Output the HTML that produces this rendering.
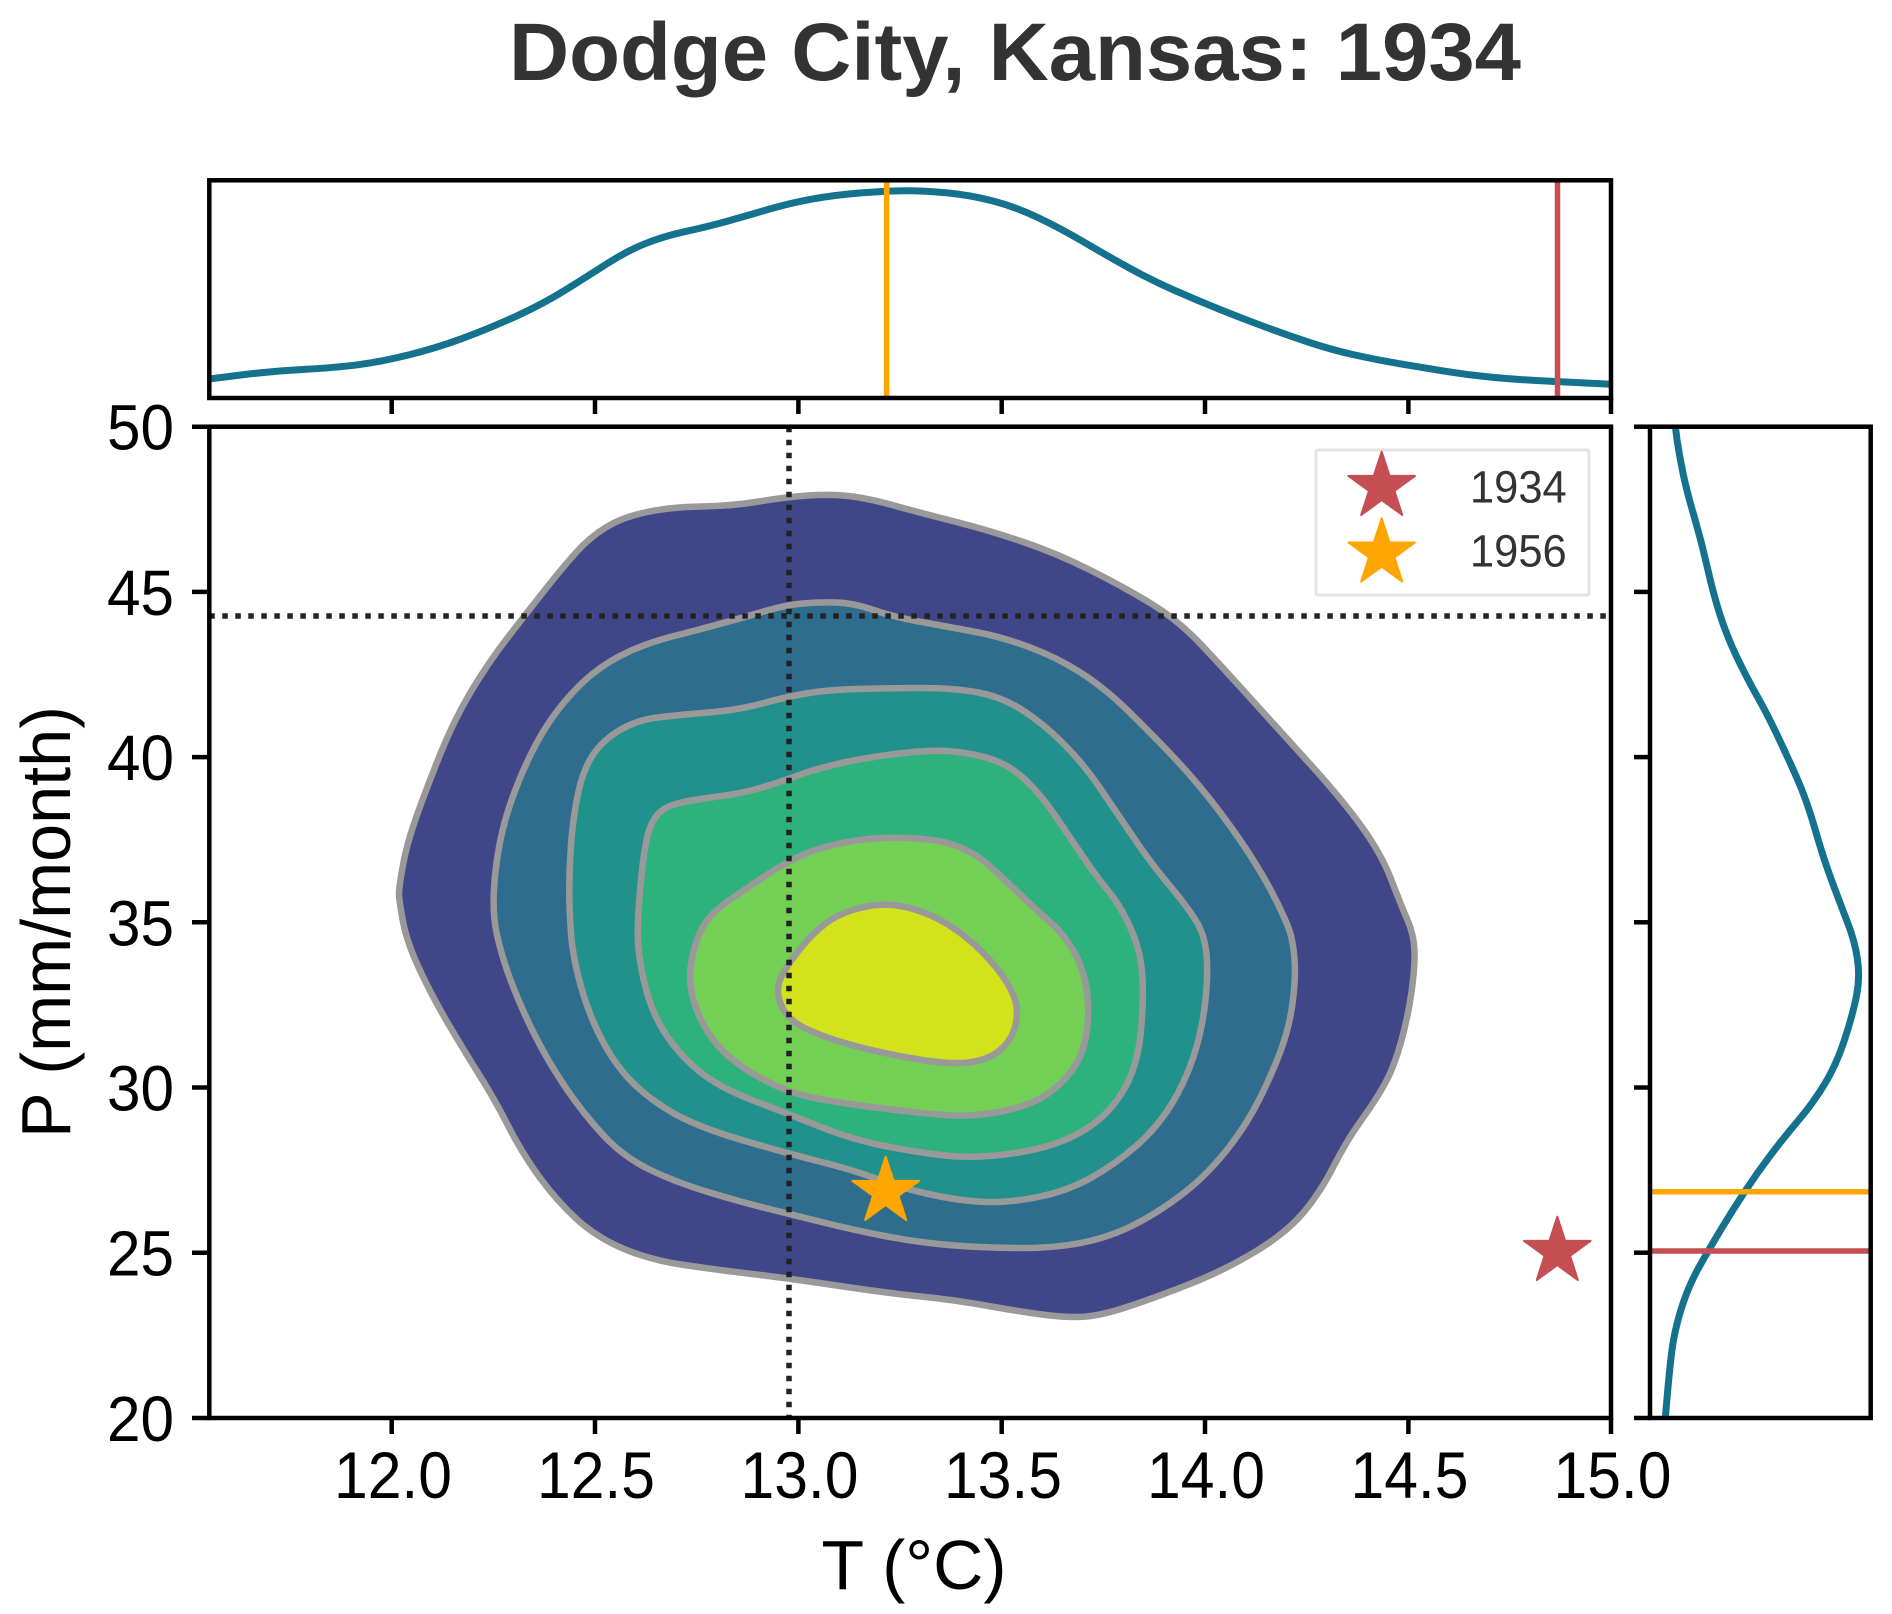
<!DOCTYPE html>
<html>
<head>
<meta charset="utf-8">
<style>
html,body{margin:0;padding:0;background:#fff;}
svg{display:block;}
text{font-family:"Liberation Sans",Arial,sans-serif;}
</style>
</head>
<body>
<svg width="1892" height="1614" viewBox="0 0 1892 1614" xmlns="http://www.w3.org/2000/svg">
<defs>
<clipPath id="cMain"><rect x="209.3" y="426.7" width="1401.7" height="991.3"/></clipPath>
<clipPath id="cTop"><rect x="209.3" y="180.3" width="1401.7" height="217.7"/></clipPath>
<clipPath id="cRight"><rect x="1650" y="426.7" width="220.7" height="991.3"/></clipPath>
<polygon id="star" points="0,-35 7.88,-10.84 33.29,-10.82 12.74,4.14 20.57,28.32 0,13.4 -20.57,28.32 -12.74,4.14 -33.29,-10.82 -7.88,-10.84"/>
</defs>

<!-- Title -->
<text x="1015" y="80" font-size="82" font-weight="bold" fill="#333" text-anchor="middle" textLength="1012" lengthAdjust="spacingAndGlyphs">Dodge City, Kansas: 1934</text>

<!-- ===== Top marginal ===== -->
<g clip-path="url(#cTop)">
<path fill="none" stroke="#14728f" stroke-width="7" stroke-linejoin="round" stroke-linecap="round"
d="M209,379 L240.75,375 Q272.5,371 304.2,369.35 Q335.9,367.7 358.45,364.7 Q381,361.7 408.25,355 Q435.5,348.3 462.7,338.3 Q489.9,328.3 517.05,315.8 Q544.2,303.3 566.85,289.15 Q589.5,275 607.6,263.35 Q625.7,251.7 643.85,244.2 Q662,236.7 684.6,231.7 Q707.2,226.7 725.35,221.7 Q743.5,216.7 766.15,210 Q788.8,203.3 811.4,199.15 Q834,195 861.2,192.85 Q888.4,190.7 906.5,190.7 Q924.6,190.7 947.3,192.85 Q970,195 992.6,200.85 Q1015.2,206.7 1037.85,217.5 Q1060.5,228.3 1083.15,241.65 Q1105.8,255 1128.4,267.5 Q1151,280 1173.7,290 Q1196.4,300 1219.05,309.15 Q1241.7,318.3 1264.35,326.65 Q1287,335 1309.6,342.5 Q1332.2,350 1354.85,355 Q1377.5,360 1400.15,363.85 Q1422.8,367.7 1445.4,371.35 Q1468,375 1490.7,377.15 Q1513.4,379.3 1536.05,380.5 Q1558.7,381.7 1585.35,383 L1614,384.4"/>
<line x1="886.6" y1="180" x2="886.6" y2="398" stroke="#ffa500" stroke-width="5.5"/>
<line x1="1557.5" y1="180" x2="1557.5" y2="398" stroke="#c44e52" stroke-width="5.5"/>
</g>
<rect x="209.3" y="180.3" width="1401.7" height="217.7" fill="none" stroke="#000" stroke-width="4.5"/>
<g stroke="#000" stroke-width="4.5">
<line x1="391.7" y1="398" x2="391.7" y2="414"/>
<line x1="595" y1="398" x2="595" y2="414"/>
<line x1="798.4" y1="398" x2="798.4" y2="414"/>
<line x1="1001.7" y1="398" x2="1001.7" y2="414"/>
<line x1="1205" y1="398" x2="1205" y2="414"/>
<line x1="1408.4" y1="398" x2="1408.4" y2="414"/>
<line x1="1611" y1="398" x2="1611" y2="414"/>
</g>

<!-- ===== Right marginal ===== -->
<g clip-path="url(#cRight)">
<path fill="none" stroke="#14728f" stroke-width="7" stroke-linejoin="round" stroke-linecap="round"
d="M1674.5,420 L1677.25,441.3 Q1680,458.6 1683.35,474.75 Q1686.7,490.9 1694.2,516.65 Q1701.7,542.4 1707.5,568.15 Q1713.3,593.9 1720,614.85 Q1726.7,635.8 1736.7,656.75 Q1746.7,677.7 1756.7,695.35 Q1766.7,713 1776.7,734 Q1786.7,755 1796.7,777.5 Q1806.7,800 1815,829 Q1823.3,858 1831.65,880.5 Q1840,903 1847.5,922.35 Q1855,941.7 1857.5,959.45 Q1860,977.2 1856.65,994.9 Q1853.3,1012.6 1845,1038.3 Q1836.7,1064 1825,1083.4 Q1813.3,1102.8 1798.3,1120.5 Q1783.3,1138.2 1770,1155.9 Q1756.7,1173.6 1745,1191.3 Q1733.3,1209 1721.65,1228.35 Q1710,1247.7 1700,1265.35 Q1690,1283 1683.35,1302.4 Q1676.7,1321.8 1673.35,1341.1 Q1670,1360.4 1665,1422"/>
<line x1="1650" y1="1191.7" x2="1871" y2="1191.7" stroke="#ffa500" stroke-width="5.5"/>
<line x1="1650" y1="1251" x2="1871" y2="1251" stroke="#c44e52" stroke-width="5.5"/>
</g>
<rect x="1650" y="426.7" width="220.7" height="991.3" fill="none" stroke="#000" stroke-width="4.5"/>
<g stroke="#000" stroke-width="4.5">
<line x1="1634" y1="426.7" x2="1650" y2="426.7"/>
<line x1="1634" y1="591.9" x2="1650" y2="591.9"/>
<line x1="1634" y1="757.1" x2="1650" y2="757.1"/>
<line x1="1634" y1="922.3" x2="1650" y2="922.3"/>
<line x1="1634" y1="1087.5" x2="1650" y2="1087.5"/>
<line x1="1634" y1="1252.7" x2="1650" y2="1252.7"/>
<line x1="1634" y1="1418" x2="1650" y2="1418"/>
</g>

<!-- ===== Main axes ===== -->
<g clip-path="url(#cMain)" stroke="#999" stroke-width="6.5" stroke-linejoin="round">
<!-- level 1 -->
<path fill="#404788" d="M606.5,527 Q623,517 647,512 Q671,507 701.5,506.5 Q732,506 759,501.5 Q786,497 808,495.5 Q830,494 848.5,496 Q867,498 894,505.5 Q921,513 954.5,521.5 Q988,530 1022,541.5 Q1056,553 1090,570 Q1124,587 1151,603.5 Q1178,620 1201.5,645 Q1225,670 1252,700 Q1279,730 1309.5,763.5 Q1340,797 1360.5,825 Q1381,853 1391,879 Q1401,905 1407.5,920 Q1414,935 1414.5,951 Q1415,967 1411.5,992 Q1408,1017 1401,1042 Q1394,1067 1385,1083.5 Q1376,1100 1361.5,1120 Q1347,1140 1333.5,1166.5 Q1320,1193 1303,1213 Q1286,1233 1255.5,1251.5 Q1225,1270 1191,1283.5 Q1157,1297 1130,1306 Q1103,1315 1086.5,1316.5 Q1070,1318 1046,1315 Q1022,1312 988.5,1306 Q955,1300 921,1296.5 Q887,1293 836.5,1285.5 Q786,1278 752,1274 Q718,1270 684,1265 Q650,1260 623,1248.5 Q596,1237 576,1218.5 Q556,1200 539,1176.5 Q522,1153 508.5,1126.5 Q495,1100 481.5,1078.5 Q468,1057 451,1028.5 Q434,1000 420.5,971.5 Q407,943 403,921.5 Q399,900 399,893.5 Q399,887 403,865 Q407,843 417,815 Q427,787 440.5,753.5 Q454,720 471,691.5 Q488,663 508.5,636.5 Q529,610 546,588.5 Q563,567 576.5,552 Q590,537 606.5,527 Z"/>
<!-- level 2 -->
<path fill="#2e6d8e" d="M496.65,933.5 Q491.6,910 494.95,876.5 Q498.3,843 506.75,815 Q515.2,787 528.75,758.5 Q542.3,730 559.15,708.5 Q576,687 593,673.5 Q610,660 630.2,651 Q650.4,642 674.1,636 Q697.8,630 721.4,623.5 Q745,617 765.35,611 Q785.7,605 802.6,603.5 Q819.5,602 836.4,602.5 Q853.3,603 873.6,610 Q893.9,617 924.3,622.5 Q954.7,628 978.35,632.5 Q1002,637 1029,647 Q1056,657 1079.75,672 Q1103.5,687 1127.15,710 Q1150.8,733 1174.4,758 Q1198,783 1218.35,810 Q1238.7,837 1252.2,858.5 Q1265.7,880 1273.85,896 Q1282,912 1287.4,925 Q1292.8,938 1294.4,957.5 Q1296,977 1292.7,1002 Q1289.4,1027 1280.95,1050 Q1272.5,1073 1258.95,1100 Q1245.4,1127 1225.2,1152 Q1205,1177 1181.25,1195 Q1157.5,1213 1133.75,1225 Q1110,1237 1083,1242.5 Q1056,1248 1022.25,1248 Q988.5,1248 954.75,1245.5 Q921,1243 887.15,1236.5 Q853.3,1230 819.5,1221.5 Q785.7,1213 765.35,1208 Q745,1203 711.25,1193 Q677.5,1183 650.45,1170 Q623.4,1157 603.1,1135 Q582.8,1113 565.9,1088 Q549,1063 535.5,1036.5 Q522,1010 511.85,983.5 Q501.7,957 496.65,933.5 Z"/>
<!-- level 3 -->
<path fill="#21918c" d="M571,933.5 Q569.3,910 569.3,890 Q569.3,870 571,845 Q572.7,820 577.75,795 Q582.8,770 592.9,755 Q603,740 620,730 Q637,720 657.25,717.5 Q677.5,715 707.9,712.5 Q738.3,710 762,703.5 Q785.7,697 805.85,693.5 Q826,690 856.5,689 Q887,688 920.85,688 Q954.7,688 978.35,692.5 Q1002,697 1022.3,710 Q1042.6,723 1062.8,743 Q1083,763 1100,788 Q1117,813 1133.9,838 Q1150.8,863 1168.4,884 Q1186,905 1195.5,920 Q1205,935 1206.65,956 Q1208.3,977 1204.9,1005 Q1201.5,1033 1193.05,1058 Q1184.6,1083 1171.05,1105 Q1157.5,1127 1137.25,1145 Q1117,1163 1093.35,1176.5 Q1069.7,1190 1042.65,1196 Q1015.6,1202 991.9,1202 Q968.2,1202 937.8,1196 Q907.4,1190 880.35,1180 Q853.3,1170 819.5,1161.5 Q785.7,1153 741.75,1140 Q697.8,1127 674.1,1113.5 Q650.4,1100 633.5,1083.5 Q616.6,1067 603.1,1042 Q589.6,1017 581.15,987 Q572.7,957 571,933.5 Z"/>
<!-- level 4 -->
<path fill="#2db27d" d="M637.75,927.5 Q638.5,905 641.1,879 Q643.7,853 647.05,838 Q650.4,823 657.2,815 Q664,807 677.5,803.5 Q691,800 718,796.5 Q745,793 765.35,786.5 Q785.7,780 799.2,775 Q812.7,770 833,765 Q853.3,760 880.35,756 Q907.4,752 927.7,751 Q948,750 968.25,753.5 Q988.5,757 1002.05,763.5 Q1015.6,770 1029.1,783.5 Q1042.6,797 1056.15,817 Q1069.7,837 1083.2,857 Q1096.7,877 1108.35,891 Q1120,905 1130.3,927.5 Q1140.6,950 1142.3,975 Q1144,1000 1140.65,1033.5 Q1137.3,1067 1123.65,1090 Q1110,1113 1089.85,1126.5 Q1069.7,1140 1046,1146.5 Q1022.3,1153 995.25,1155.5 Q968.2,1158 944.6,1155.5 Q921,1153 887.15,1146.5 Q853.3,1140 819.5,1126.5 Q785.7,1113 751.85,1100 Q718,1087 697.75,1070 Q677.5,1053 663.95,1031.5 Q650.4,1010 643.7,980 Q637,950 637.75,927.5 Z"/>
<!-- level 5 -->
<path fill="#73d055" d="M706.4,921.5 Q715,910 727.5,901.5 Q740,893 749.3,886.5 Q758.6,880 772.15,871.5 Q785.7,863 799.2,856.5 Q812.7,850 833,845 Q853.3,840 873.6,838.5 Q893.9,837 917.55,838.5 Q941.2,840 958.1,846.5 Q975,853 988.5,865 Q1002,877 1018,892.5 Q1034,908 1048.5,920.5 Q1063,933 1073,950 Q1083,967 1086.5,988.5 Q1090,1010 1086.5,1033.5 Q1083,1057 1069.5,1073.5 Q1056,1090 1039.15,1099 Q1022.3,1108 995.25,1112.5 Q968.2,1117 944.6,1115 Q921,1113 887.15,1109 Q853.3,1105 819.5,1099 Q785.7,1093 755.25,1075 Q724.8,1057 711.3,1037 Q697.8,1017 692.7,997 Q687.6,977 692.7,955 Q697.8,933 706.4,921.5 Z"/>
<!-- level 6 -->
<path fill="#d2e21b" d="M860.05,908 Q880.3,903 897.15,905.5 Q914,908 931,915.5 Q948,923 964.9,936.5 Q981.8,950 995.3,966.5 Q1008.8,983 1013.9,996.5 Q1019,1010 1015.5,1025 Q1012,1040 1000.25,1050 Q988.5,1060 968.25,1062.5 Q948,1065 907.4,1057.5 Q866.8,1050 839.75,1041.5 Q812.7,1033 799.2,1025 Q785.7,1017 780.6,1003.5 Q775.5,990 780.6,978.5 Q785.7,967 799.2,950 Q812.7,933 826.25,923 Q839.8,913 860.05,908 Z"/>
</g>

<!-- dotted reference lines -->
<g clip-path="url(#cMain)" stroke="#222" stroke-width="5.5" stroke-dasharray="5.5 7.5">
<line x1="789" y1="426.7" x2="789" y2="1418"/>
<line x1="209.3" y1="616" x2="1611" y2="616"/>
</g>

<!-- stars -->
<use href="#star" transform="translate(885.7,1191.7)" fill="#ffa500" stroke="#ffa500" stroke-width="2" stroke-linejoin="round"/>
<use href="#star" transform="translate(1557.3,1251.7)" fill="#c44e52" stroke="#c44e52" stroke-width="2" stroke-linejoin="round"/>

<!-- legend -->
<rect x="1316" y="450" width="273" height="145" fill="#fff" fill-opacity="0.85" stroke="#e3e3e3" stroke-width="3" rx="2"/>
<use href="#star" transform="translate(1381.7,486.7)" fill="#c44e52" stroke="#c44e52" stroke-width="2" stroke-linejoin="round"/>
<use href="#star" transform="translate(1381.7,553.3)" fill="#ffa500" stroke="#ffa500" stroke-width="2" stroke-linejoin="round"/>
<text x="1470" y="502.7" font-size="45" fill="#333" textLength="96.7" lengthAdjust="spacingAndGlyphs">1934</text>
<text x="1470" y="566.7" font-size="45" fill="#333" textLength="96.7" lengthAdjust="spacingAndGlyphs">1956</text>

<!-- main frame -->
<rect x="209.3" y="426.7" width="1401.7" height="991.3" fill="none" stroke="#000" stroke-width="4.5"/>
<g stroke="#000" stroke-width="4.5">
<line x1="192" y1="426.7" x2="209.3" y2="426.7"/>
<line x1="192" y1="591.9" x2="209.3" y2="591.9"/>
<line x1="192" y1="757.1" x2="209.3" y2="757.1"/>
<line x1="192" y1="922.3" x2="209.3" y2="922.3"/>
<line x1="192" y1="1087.5" x2="209.3" y2="1087.5"/>
<line x1="192" y1="1252.7" x2="209.3" y2="1252.7"/>
<line x1="192" y1="1418" x2="209.3" y2="1418"/>
<line x1="391.7" y1="1418" x2="391.7" y2="1434"/>
<line x1="595" y1="1418" x2="595" y2="1434"/>
<line x1="798.4" y1="1418" x2="798.4" y2="1434"/>
<line x1="1001.7" y1="1418" x2="1001.7" y2="1434"/>
<line x1="1205" y1="1418" x2="1205" y2="1434"/>
<line x1="1408.4" y1="1418" x2="1408.4" y2="1434"/>
<line x1="1611" y1="1418" x2="1611" y2="1434"/>
</g>

<!-- y tick labels -->
<g font-size="64" fill="#000" text-anchor="end">
<text x="174" y="449.7" textLength="67" lengthAdjust="spacingAndGlyphs">50</text>
<text x="174" y="614.9" textLength="67" lengthAdjust="spacingAndGlyphs">45</text>
<text x="174" y="780.1" textLength="67" lengthAdjust="spacingAndGlyphs">40</text>
<text x="174" y="945.3" textLength="67" lengthAdjust="spacingAndGlyphs">35</text>
<text x="174" y="1110.5" textLength="67" lengthAdjust="spacingAndGlyphs">30</text>
<text x="174" y="1275.7" textLength="67" lengthAdjust="spacingAndGlyphs">25</text>
<text x="174" y="1441" textLength="67" lengthAdjust="spacingAndGlyphs">20</text>
</g>

<!-- x tick labels -->
<g font-size="66" fill="#000" text-anchor="middle">
<text x="393" y="1498" textLength="118" lengthAdjust="spacingAndGlyphs">12.0</text>
<text x="596" y="1498" textLength="118" lengthAdjust="spacingAndGlyphs">12.5</text>
<text x="799.5" y="1498" textLength="118" lengthAdjust="spacingAndGlyphs">13.0</text>
<text x="1003" y="1498" textLength="118" lengthAdjust="spacingAndGlyphs">13.5</text>
<text x="1206" y="1498" textLength="118" lengthAdjust="spacingAndGlyphs">14.0</text>
<text x="1409.5" y="1498" textLength="118" lengthAdjust="spacingAndGlyphs">14.5</text>
<text x="1612.5" y="1498" textLength="118" lengthAdjust="spacingAndGlyphs">15.0</text>
</g>

<!-- axis labels -->
<text x="914" y="1589" font-size="70" fill="#000" text-anchor="middle" textLength="185" lengthAdjust="spacingAndGlyphs">T (°C)</text>
<text transform="translate(70,922) rotate(-90)" x="0" y="0" font-size="70" fill="#000" text-anchor="middle" textLength="432" lengthAdjust="spacingAndGlyphs">P (mm/month)</text>
</svg>
</body>
</html>
